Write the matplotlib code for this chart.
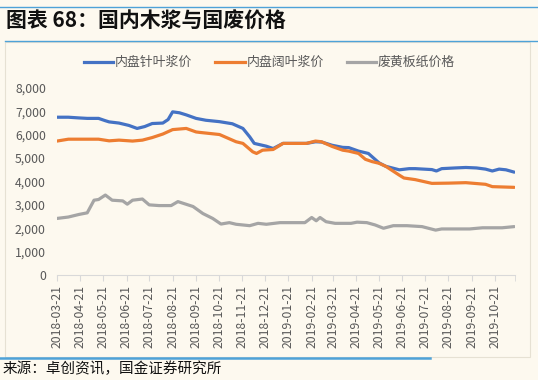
import matplotlib
matplotlib.use("Agg")
import matplotlib.pyplot as plt
from matplotlib.lines import Line2D
from matplotlib.patches import Rectangle
import pandas as pd

plt.rcParams['font.family'] = ['Noto Sans CJK SC', 'DejaVu Sans']

title = "图表 68：国内木浆与国废价格"
source = "来源：卓创资讯，国金证券研究所"
series_names = ["内盘针叶浆价", "内盘阔叶浆价", "废黄板纸价格"]

softwood_dates = ["2018-03-21", "2018-04-05", "2018-04-19", "2018-04-30", "2018-05-15", "2018-05-24",
                  "2018-05-29", "2018-06-11", "2018-06-24", "2018-07-05", "2018-07-15", "2018-07-25",
                  "2018-08-08", "2018-08-15", "2018-08-21", "2018-08-30", "2018-09-08", "2018-09-21",
                  "2018-10-04", "2018-10-22", "2018-11-08", "2018-11-22", "2018-12-01", "2018-12-07",
                  "2018-12-23", "2019-01-01", "2019-01-14", "2019-02-14", "2019-02-26", "2019-03-06",
                  "2019-03-20", "2019-04-03", "2019-04-11", "2019-04-24", "2019-05-07", "2019-05-21",
                  "2019-05-30", "2019-06-17", "2019-06-30", "2019-07-08", "2019-07-30", "2019-08-05",
                  "2019-08-12", "2019-08-30", "2019-09-13", "2019-09-27", "2019-10-09", "2019-10-18",
                  "2019-10-27", "2019-11-05", "2019-11-16"]
softwood = [6750, 6750, 6720, 6700, 6700, 6600, 6550, 6500, 6400, 6270, 6350, 6480,
            6500, 6650, 6980, 6940, 6850, 6700, 6620, 6560, 6470, 6270, 5910, 5630,
            5510, 5410, 5630, 5630, 5700, 5690, 5550, 5460, 5450, 5300, 5200, 4800,
            4650, 4500, 4550, 4550, 4510, 4450, 4550, 4580, 4600, 4580, 4530, 4450,
            4530, 4500, 4400]

hardwood_dates = ["2018-03-21", "2018-04-05", "2018-05-15", "2018-05-29", "2018-06-11", "2018-06-29",
                  "2018-07-12", "2018-07-25", "2018-08-08", "2018-08-21", "2018-09-08", "2018-09-21",
                  "2018-09-26", "2018-10-22", "2018-11-13", "2018-11-22", "2018-12-05", "2018-12-10",
                  "2018-12-18", "2019-01-01", "2019-01-14", "2019-02-14", "2019-02-26", "2019-03-06",
                  "2019-03-20", "2019-04-03", "2019-04-11", "2019-04-24", "2019-05-03", "2019-05-12",
                  "2019-05-21", "2019-05-30", "2019-06-17", "2019-06-23", "2019-07-08", "2019-07-30",
                  "2019-08-21", "2019-09-13", "2019-10-09", "2019-10-18", "2019-11-16"]
hardwood = [5730, 5810, 5810, 5740, 5770, 5730, 5770, 5880, 6030, 6220, 6270, 6120,
            6100, 6010, 5700, 5630, 5270, 5200, 5340, 5370, 5630, 5630, 5730, 5700,
            5500, 5340, 5300, 5200, 4950, 4850, 4780, 4650, 4270, 4150, 4080, 3920,
            3930, 3950, 3880, 3780, 3750]

waste_dates = ["2018-03-21", "2018-04-05", "2018-04-19", "2018-04-30", "2018-05-09", "2018-05-15",
               "2018-05-24", "2018-06-02", "2018-06-16", "2018-06-22", "2018-06-29", "2018-07-12",
               "2018-07-21", "2018-08-03", "2018-08-19", "2018-08-28", "2018-09-17", "2018-09-30",
               "2018-10-13", "2018-10-24", "2018-11-04", "2018-11-13", "2018-12-01", "2018-12-12",
               "2018-12-23", "2019-01-10", "2019-02-12", "2019-02-21", "2019-02-27", "2019-03-04",
               "2019-03-12", "2019-03-24", "2019-04-14", "2019-04-22", "2019-05-05", "2019-05-16",
               "2019-05-27", "2019-06-09", "2019-06-27", "2019-07-17", "2019-08-04", "2019-08-12",
               "2019-09-18", "2019-10-05", "2019-10-31", "2019-11-16"]
waste = [2420, 2480, 2590, 2660, 3200, 3230, 3420, 3200, 3170, 3030, 3200, 3250,
         3000, 2970, 2970, 3140, 2930, 2630, 2420, 2180, 2240, 2170, 2110, 2210,
         2170, 2240, 2240, 2460, 2320, 2460, 2280, 2210, 2210, 2260, 2240, 2140,
         2000, 2110, 2110, 2070, 1920, 1970, 1970, 2020, 2020, 2070]

tick_dates = ["2018-03-21", "2018-04-21", "2018-05-21", "2018-06-21", "2018-07-21", "2018-08-21",
              "2018-09-21", "2018-10-21", "2018-11-21", "2018-12-21", "2019-01-21", "2019-02-21",
              "2019-03-21", "2019-04-21", "2019-05-21", "2019-06-21", "2019-07-21", "2019-08-21",
              "2019-09-21", "2019-10-21"]
y_ticks = [0, 1000, 2000, 3000, 4000, 5000, 6000, 7000, 8000]

colors = ["#4472C4", "#ED7D31", "#A5A5A5"]
bg = "#FDF9EF"

fig = plt.figure(figsize=(5.38, 3.8), dpi=100, facecolor=bg)
ax = fig.add_axes([57/538, 1 - 275/380, (515 - 57)/538, (275 - 88)/380])
ax.set_facecolor(bg)

for d, v, c in [(softwood_dates, softwood, colors[0]),
                (hardwood_dates, hardwood, colors[1]),
                (waste_dates, waste, colors[2])]:
    ax.plot(pd.to_datetime(d), v, color=c, lw=2.3, solid_joinstyle='round', solid_capstyle='round')

ax.set_xlim(pd.Timestamp("2018-03-21"), pd.Timestamp("2019-11-17"))
ax.set_ylim(0, 8000)
ax.set_yticks(y_ticks)
ax.set_yticklabels([f"{v:,}" for v in y_ticks], fontsize=8.8, color="#595959")
ticks = list(pd.to_datetime(tick_dates))
ax.set_xticks(ticks)
ax.set_xticklabels(tick_dates, rotation=90, fontsize=8.8, color="#595959")
ax.set_xticks([pd.Timestamp("2019-11-17")], minor=True)
ax.tick_params(axis='y', length=0, pad=8)
ax.tick_params(axis='x', which='both', length=4, color="#D9D9D9", pad=3, direction='out')
for s in ["top", "right", "left"]:
    ax.spines[s].set_visible(False)
ax.spines["bottom"].set_color("#D9D9D9")
ax.spines["bottom"].set_linewidth(0.8)

# frame / decorations
fig.add_artist(Line2D([0, 1], [1 - 7/380, 1 - 7/380], color="#4EA2D8", lw=1.0, transform=fig.transFigure))
fig.add_artist(Line2D([5/538, 1], [1 - 41/380, 1 - 41/380], color="#4EA2D8", lw=1.0, transform=fig.transFigure))
fig.add_artist(Rectangle((5/538, 1 - 357/380), (530 - 5)/538, (357 - 42)/380, transform=fig.transFigure,
                         fill=False, edgecolor="#E6E1D3", lw=0.8))
fig.add_artist(Line2D([0, 430/538], [1 - 358/380, 1 - 358/380], color="#4EA2D8", lw=1.8, transform=fig.transFigure))

fig.text(6/538, 1 - 21/380, title, fontsize=15, fontweight='bold', fontstyle='italic',
         va='center', ha='left', color="#111111")
fig.text(3/538, 1 - 369/380, source, fontsize=10.5, va='center', ha='left', color="#111111")

# legend
leg_x = [(84, 113, 115), (215, 245, 247), (347, 376, 378)]
ly = 1 - 62/380
for (x0, x1, tx), name, c in zip(leg_x, series_names, colors):
    fig.add_artist(Line2D([x0/538, x1/538], [ly, ly], color=c, lw=2.3, transform=fig.transFigure))
    fig.text(tx/538, ly, name, fontsize=9.3, va='center', ha='left', color="#595959")

fig.savefig("out.png", dpi=100, facecolor=bg)
